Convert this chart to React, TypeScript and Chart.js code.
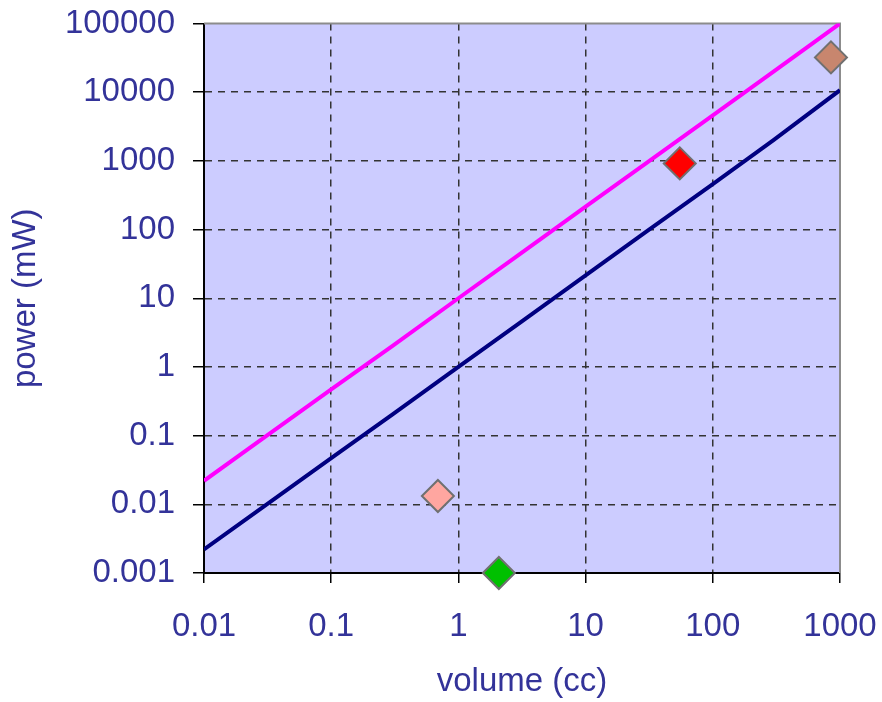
import React, { useEffect, useRef } from "react";
import { Chart, registerables } from "chart.js";

Chart.register(...registerables);

// ---- data ----
const lineX = [0.01, 0.03, 0.1, 0.3, 1, 3, 10, 30, 100, 300, 1000];
const magentaY = [0.022, 0.095, 0.47, 2.0, 10, 43, 215, 930, 4600, 20000, 100000];
const navyY = [0.0022, 0.0095, 0.047, 0.2, 1.0, 4.3, 21.5, 93, 460, 2000, 10700];

const pointX = [0.69, 2.08, 55, 849];
const pointY = [0.0132, 0.001, 919, 32100];
const pointColors = ["#FFA6A0", "#00C000", "#FF0000", "#C8866E"];

const xTicks = [0.01, 0.1, 1, 10, 100, 1000];
const xTickLabels = ["0.01", "0.1", "1", "10", "100", "1000"];
const yTicks = [0.001, 0.01, 0.1, 1, 10, 100, 1000, 10000, 100000];
const yTickLabels = ["0.001", "0.01", "0.1", "1", "10", "100", "1000", "10000", "100000"];

const xTitle = "volume (cc)";
const yTitle = "power (mW)";

const TEXT = "#333399";
const FONT = "'Liberation Sans', Arial, sans-serif";

const plotDecor = {
  id: "plotDecor",
  beforeDraw(chart: any) {
    const { ctx, chartArea: a } = chart;
    ctx.save();
    ctx.fillStyle = "#CCCCFF";
    ctx.fillRect(a.left, a.top, a.right - a.left, a.bottom - a.top);
    ctx.restore();
  },
  beforeDatasetsDraw(chart: any) {
    const { ctx, chartArea: a } = chart;
    ctx.save();
    ctx.strokeStyle = "#8C8C8C";
    ctx.lineWidth = 2;
    ctx.beginPath();
    ctx.moveTo(a.left, a.top);
    ctx.lineTo(a.right, a.top);
    ctx.lineTo(a.right, a.bottom);
    ctx.stroke();
    ctx.restore();
  },
};

export default function App() {
  const ref = useRef<HTMLCanvasElement | null>(null);

  useEffect(() => {
    document.body.style.margin = "0";
    const canvas = ref.current!;
    const toPts = (xs: number[], ys: number[]) => xs.map((x, i) => ({ x, y: ys[i] }));

    const chart = new Chart(canvas, {
      type: "scatter",
      data: {
        datasets: [
          {
            data: toPts(lineX, magentaY),
            showLine: true,
            borderColor: "#FF00FF",
            borderWidth: 4,
            pointRadius: 0,
            tension: 0,
          },
          {
            data: toPts(lineX, navyY),
            showLine: true,
            borderColor: "#000080",
            borderWidth: 4,
            pointRadius: 0,
            tension: 0,
          },
          {
            data: toPts(pointX, pointY),
            showLine: false,
            pointStyle: "rectRot",
            pointRadius: 16,
            pointBackgroundColor: pointColors,
            pointBorderColor: "#707070",
            pointBorderWidth: 2,
            clip: false,
          } as any,
        ],
      },
      options: {
        responsive: false,
        animation: false,
        devicePixelRatio: 1,
        layout: { padding: { top: 23.5, right: 42, left: 0, bottom: 0 } },
        plugins: { legend: { display: false }, tooltip: { enabled: false } },
        scales: {
          x: {
            type: "logarithmic",
            min: 0.01,
            max: 1000,
            afterBuildTicks: (s: any) => {
              s.ticks = xTicks.map((v) => ({ value: v }));
            },
            afterFit: (s: any) => {
              s.height = 129;
              s.paddingLeft = 0;
              s.paddingRight = 0;
            },
            ticks: {
              autoSkip: false,
              maxRotation: 0,
              padding: 24,
              color: TEXT,
              font: { family: FONT, size: 33 },
              callback: (_v: any, i: number) => xTickLabels[i],
            },
            grid: {
              color: (c: any) => (c.index === 0 || c.index === xTicks.length - 1 ? "rgba(0,0,0,0)" : "#333333"),
              lineWidth: 1.5,
              tickColor: "#000000",
              tickLength: 10,
              tickBorderDash: [],
            } as any,
            border: { color: "#000000", width: 2, dash: [7, 6] } as any,
            title: {
              display: true,
              text: xTitle,
              color: TEXT,
              font: { family: FONT, size: 33 },
              padding: { top: 4, bottom: 0 },
            },
          },
          y: {
            type: "logarithmic",
            min: 0.001,
            max: 100000,
            afterBuildTicks: (s: any) => {
              s.ticks = yTicks.map((v) => ({ value: v }));
            },
            afterFit: (s: any) => {
              s.width = 204;
              s.paddingTop = 0;
              s.paddingBottom = 0;
            },
            ticks: {
              autoSkip: false,
              padding: 18,
              color: TEXT,
              font: { family: FONT, size: 33 },
              callback: (_v: any, i: number) => yTickLabels[i],
            },
            grid: {
              color: (c: any) => (c.index === 0 || c.index === yTicks.length - 1 ? "rgba(0,0,0,0)" : "#333333"),
              lineWidth: 1.5,
              tickColor: "#000000",
              tickLength: 11,
              tickBorderDash: [],
            } as any,
            border: { color: "#000000", width: 2, dash: [7, 6] } as any,
            title: {
              display: true,
              text: yTitle,
              color: TEXT,
              font: { family: FONT, size: 33 },
              padding: { top: 6, bottom: 0 },
            },
          },
        },
      },
      plugins: [plotDecor],
    });
    return () => chart.destroy();
  }, []);

  return (
    <div style={{ width: 882, height: 702, background: "#ffffff" }}>
      <canvas ref={ref} width={882} height={702} style={{ display: "block" }} />
    </div>
  );
}
